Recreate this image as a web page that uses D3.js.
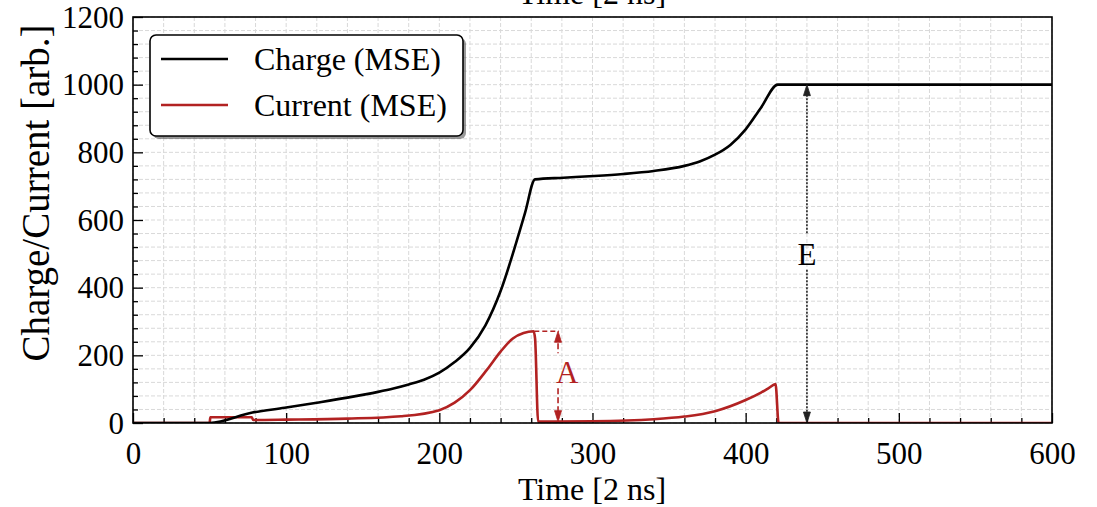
<!DOCTYPE html>
<html><head><meta charset="utf-8">
<script src="https://cdn.jsdelivr.net/npm/d3@7"></script>
<style>body{margin:0;background:#fff}svg{display:block}text{font-family:"Liberation Serif","Times New Roman",serif}</style>
</head><body><svg id="c" width="1097" height="507"></svg>
<script>
const chargeX = [0, 50, 78, 99, 120, 140, 160, 170, 180, 190, 200, 210, 220, 230, 240, 250, 256, 262.5, 281, 301, 320, 340, 360, 370, 380, 390, 400, 410, 421, 600];
const chargeY = [0, 0, 31, 45, 60, 75, 92, 102, 114, 128, 149, 180, 222, 288, 390, 530, 622, 720, 725, 730, 736, 745, 760, 773, 793, 822, 868, 932, 1000, 1000];
const currentX = [0, 50, 50.5, 77.5, 78.5, 100, 140, 175, 200, 210, 220, 231, 240, 248, 255, 261.5, 262.5, 264.5, 300, 340, 360, 380, 400, 410, 415, 419.5, 421.5, 600];
const currentY = [0, 0, 17, 17, 9, 10, 13, 20, 38, 60, 97, 157, 211, 250, 266, 271, 250, 4, 5, 11, 19, 35, 68, 90, 103, 115, 0, 0];
const xTicks = [0, 100, 200, 300, 400, 500, 600];
const yTicks = [0, 200, 400, 600, 800, 1000, 1200];
const seriesNames = ["Charge (MSE)", "Current (MSE)"];
const seriesColors = ["#000000", "#b22222"];
const annA = {x: 277.5, top: 271, bottom: 4, label: "A", textY: 150, dashFrom: 262};
const annE = {x: 440, top: 1000, bottom: 0, label: "E", textY: 500};

const SERIF = '"Liberation Serif", "Times New Roman", serif';
const svg = d3.select("#c");
const L = 133, R = 1052, T = 17, B = 423;
const x = d3.scaleLinear().domain([0, 600]).range([L, R]);
const y = d3.scaleLinear().domain([0, 1200]).range([B, T]);

// grid
const gx = d3.range(0, 601, 20), gy = d3.range(0, 1201, 40);
svg.append("g").selectAll("line").data(gx).join("line")
  .attr("x1", d => x(d)).attr("x2", d => x(d)).attr("y1", T).attr("y2", B)
  .attr("stroke", "#d9d9d9").attr("stroke-width", 1).attr("stroke-dasharray", "4,2");
svg.append("g").selectAll("line").data(gy).join("line")
  .attr("y1", d => y(d)).attr("y2", d => y(d)).attr("x1", L).attr("x2", R)
  .attr("stroke", "#d9d9d9").attr("stroke-width", 1).attr("stroke-dasharray", "4,2");

// axes
const xAxis = svg.append("g").attr("transform", `translate(0,${B})`)
  .call(d3.axisBottom(x).tickValues(xTicks).tickSize(-10).tickFormat(d3.format("d")));
const xMinor = svg.append("g").attr("transform", `translate(0,${B})`)
  .call(d3.axisBottom(x).tickValues(gx.filter(d => d % 100)).tickSize(-5).tickFormat(""));
const yAxis = svg.append("g").attr("transform", `translate(${L},0)`)
  .call(d3.axisLeft(y).tickValues(yTicks).tickSize(-10).tickPadding(9).tickFormat(d3.format("d")));
const yMinor = svg.append("g").attr("transform", `translate(${L},0)`)
  .call(d3.axisLeft(y).tickValues(gy.filter(d => d % 200)).tickSize(-5).tickFormat(""));
[xAxis, xMinor, yAxis, yMinor].forEach(g => {
  g.attr("font-family", SERIF).attr("font-size", 31);
  g.select(".domain").remove();
  g.selectAll(".tick line").attr("stroke", "#000").attr("stroke-width", 1.3);
  g.selectAll("text").style("font-family", SERIF).style("font-size", "31px").attr("fill", "#000");
});
xAxis.selectAll("text").attr("dy", "0.71em").attr("y", 19);
yAxis.selectAll("text").attr("dy", "0.33em");

// lines
const line = d3.line().x(d => x(d[0])).y(d => y(d[1])).curve(d3.curveMonotoneX);
svg.append("clipPath").attr("id", "pc").append("rect").attr("x", L).attr("y", T).attr("width", R - L).attr("height", B - T);
svg.append("path").datum(currentX.map((v, i) => [v, currentY[i]]))
  .attr("d", line).attr("fill", "none").attr("stroke", seriesColors[1]).attr("stroke-width", 2.6).attr("clip-path", "url(#pc)");
svg.append("path").datum(chargeX.map((v, i) => [v, chargeY[i]]))
  .attr("d", line).attr("fill", "none").attr("stroke", seriesColors[0]).attr("stroke-width", 2.6).attr("clip-path", "url(#pc)");

// annotations
function arrowHead(xp, yp, dir, color) {
  const w = 3.5, h = 11;
  svg.append("path").attr("d", `M${xp},${yp} L${xp - w},${yp + dir * h} L${xp + w},${yp + dir * h} Z`)
    .attr("fill", color).attr("stroke", color).attr("stroke-width", 0.8);
}
function doubleArrow(a, color, dash) {
  const xp = x(a.x), ty = y(a.textY);
  const gapTop = ty - 19, gapBot = ty + 16;
  svg.append("line").attr("x1", xp).attr("x2", xp).attr("y1", y(a.top) + 3).attr("y2", gapTop)
    .attr("stroke", color).attr("stroke-width", 1.6).attr("stroke-dasharray", dash);
  svg.append("line").attr("x1", xp).attr("x2", xp).attr("y1", gapBot).attr("y2", y(a.bottom) - 3)
    .attr("stroke", color).attr("stroke-width", 1.6).attr("stroke-dasharray", dash);
  arrowHead(xp, y(a.top), 1, color);
  arrowHead(xp, y(a.bottom), -1, color);
}
svg.append("line").attr("x1", x(annA.dashFrom)).attr("x2", x(annA.x) + 1).attr("y1", y(annA.top)).attr("y2", y(annA.top))
  .attr("stroke", seriesColors[1]).attr("stroke-width", 1.6).attr("stroke-dasharray", "5,3");
doubleArrow(annA, seriesColors[1], "6,3");
svg.append("text").attr("x", x(annA.x) - 2).attr("y", y(annA.textY) + 11).attr("font-size", 31).attr("fill", seriesColors[1]).text(annA.label);
doubleArrow(annE, "#222", "2,1.5");
svg.append("text").attr("x", x(annE.x)).attr("y", y(annE.textY) + 11).attr("text-anchor", "middle").attr("font-size", 31).attr("fill", "#000").text(annE.label);

// frame
svg.append("rect").attr("x", L).attr("y", T).attr("width", R - L).attr("height", B - T)
  .attr("fill", "none").attr("stroke", "#000").attr("stroke-width", 1.6);

// axis labels
svg.append("text").attr("x", 592).attr("y", 500).attr("text-anchor", "middle").attr("font-size", 32).text("Time [2 ns]");
svg.append("text").attr("x", 592).attr("y", 4).attr("text-anchor", "middle").attr("font-size", 32).text("Time [2 ns]");
svg.append("text").attr("transform", "translate(49,193) rotate(-90)").attr("text-anchor", "middle").attr("font-size", 39).text("Charge/Current [arb.]");

// legend
const lg = svg.append("g");
lg.append("rect").attr("x", 153).attr("y", 38).attr("width", 313).attr("height", 101).attr("rx", 6)
  .attr("fill", "#555").attr("opacity", 0.6);
lg.append("rect").attr("x", 150).attr("y", 35).attr("width", 313).attr("height", 101).attr("rx", 6)
  .attr("fill", "#fff").attr("stroke", "#000").attr("stroke-width", 1.6);
seriesNames.forEach((n, i) => {
  const yy = 59 + i * 46;
  lg.append("line").attr("x1", 161).attr("x2", 228).attr("y1", yy).attr("y2", yy)
    .attr("stroke", seriesColors[i]).attr("stroke-width", 2.6);
  lg.append("text").attr("x", 254).attr("y", yy + 11).attr("font-size", 32).text(n);
});
</script></body></html>
